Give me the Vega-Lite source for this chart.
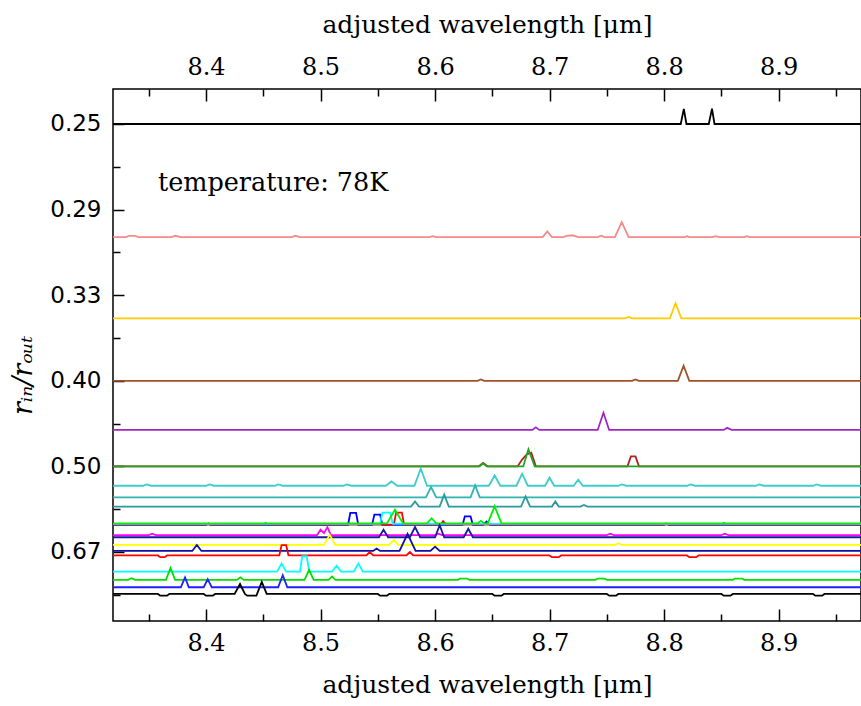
{
  "$schema": "https://vega.github.io/schema/vega-lite/v6.json",
  "width": 748,
  "height": 532,
  "autosize": {"type": "none"},
  "padding": {"left": 113, "top": 89, "right": 0, "bottom": 85},
  "background": "white",
  "config": {
    "view": {"stroke": "#000", "strokeWidth": 1.5},
    "axis": {"grid": false, "domain": false, "tickColor": "#000", "tickWidth": 1.5, "labelColor": "#000", "titleColor": "#000", "labelFont": "DejaVu Serif", "labelFontSize": 24, "titleFont": "DejaVu Serif", "titleFontSize": 25, "titleFontWeight": "normal", "labelFlush": false, "labelOverlap": false},
    "axisY": {"labelFont": "DejaVu Sans", "labelFontSize": 23}
  },
  "datasets": {
    "spectra": [
      {"s":"s01","x":8.318,"y":4},{"s":"s01","x":8.8145,"y":4},{"s":"s01","x":8.8172,"y":4.088},{"s":"s01","x":8.8195,"y":4},{"s":"s01","x":8.839,"y":4},{"s":"s01","x":8.8418,"y":4.09},{"s":"s01","x":8.844,"y":4},{"s":"s01","x":8.973,"y":4},
      {"s":"s02","x":8.318,"y":3.339},{"s":"s02","x":8.33,"y":3.339},{"s":"s02","x":8.333,"y":3.347},{"s":"s02","x":8.338,"y":3.347},{"s":"s02","x":8.341,"y":3.339},{"s":"s02","x":8.37,"y":3.339},{"s":"s02","x":8.373,"y":3.347},{"s":"s02","x":8.378,"y":3.339},{"s":"s02","x":8.475,"y":3.339},{"s":"s02","x":8.478,"y":3.347},{"s":"s02","x":8.482,"y":3.339},{"s":"s02","x":8.595,"y":3.339},{"s":"s02","x":8.598,"y":3.345},{"s":"s02","x":8.601,"y":3.339},{"s":"s02","x":8.694,"y":3.339},{"s":"s02","x":8.698,"y":3.373},{"s":"s02","x":8.702,"y":3.339},{"s":"s02","x":8.712,"y":3.339},{"s":"s02","x":8.715,"y":3.347},{"s":"s02","x":8.72,"y":3.35},{"s":"s02","x":8.725,"y":3.339},{"s":"s02","x":8.742,"y":3.339},{"s":"s02","x":8.745,"y":3.347},{"s":"s02","x":8.748,"y":3.339},{"s":"s02","x":8.757,"y":3.339},{"s":"s02","x":8.763,"y":3.427},{"s":"s02","x":8.769,"y":3.339},{"s":"s02","x":8.818,"y":3.339},{"s":"s02","x":8.82,"y":3.345},{"s":"s02","x":8.822,"y":3.339},{"s":"s02","x":8.842,"y":3.339},{"s":"s02","x":8.845,"y":3.345},{"s":"s02","x":8.848,"y":3.339},{"s":"s02","x":8.87,"y":3.339},{"s":"s02","x":8.872,"y":3.345},{"s":"s02","x":8.875,"y":3.339},{"s":"s02","x":8.973,"y":3.339},
      {"s":"s03","x":8.318,"y":2.865},{"s":"s03","x":8.766,"y":2.865},{"s":"s03","x":8.769,"y":2.873},{"s":"s03","x":8.772,"y":2.865},{"s":"s03","x":8.805,"y":2.865},{"s":"s03","x":8.81,"y":2.953},{"s":"s03","x":8.815,"y":2.865},{"s":"s03","x":8.973,"y":2.865},
      {"s":"s04","x":8.318,"y":2.5},{"s":"s04","x":8.637,"y":2.5},{"s":"s04","x":8.64,"y":2.508},{"s":"s04","x":8.643,"y":2.5},{"s":"s04","x":8.772,"y":2.5},{"s":"s04","x":8.775,"y":2.508},{"s":"s04","x":8.778,"y":2.5},{"s":"s04","x":8.812,"y":2.5},{"s":"s04","x":8.817,"y":2.588},{"s":"s04","x":8.822,"y":2.5},{"s":"s04","x":8.973,"y":2.5},
      {"s":"s05","x":8.318,"y":2.213},{"s":"s05","x":8.685,"y":2.213},{"s":"s05","x":8.688,"y":2.228},{"s":"s05","x":8.691,"y":2.213},{"s":"s05","x":8.742,"y":2.213},{"s":"s05","x":8.747,"y":2.313},{"s":"s05","x":8.752,"y":2.213},{"s":"s05","x":8.852,"y":2.213},{"s":"s05","x":8.855,"y":2.225},{"s":"s05","x":8.859,"y":2.213},{"s":"s05","x":8.973,"y":2.213},
      {"s":"s06","x":8.318,"y":2},{"s":"s06","x":8.638,"y":2},{"s":"s06","x":8.642,"y":2.02},{"s":"s06","x":8.646,"y":2},{"s":"s06","x":8.672,"y":2},{"s":"s06","x":8.676,"y":2.04},{"s":"s06","x":8.68,"y":2.07},{"s":"s06","x":8.684,"y":2.08},{"s":"s06","x":8.688,"y":2},{"s":"s06","x":8.768,"y":2},{"s":"s06","x":8.771,"y":2.058},{"s":"s06","x":8.775,"y":2.058},{"s":"s06","x":8.778,"y":2},{"s":"s06","x":8.973,"y":2},
      {"s":"s07","x":8.318,"y":2},{"s":"s07","x":8.639,"y":2},{"s":"s07","x":8.642,"y":2.018},{"s":"s07","x":8.645,"y":2},{"s":"s07","x":8.677,"y":2},{"s":"s07","x":8.6815,"y":2.1},{"s":"s07","x":8.687,"y":2},{"s":"s07","x":8.973,"y":2},
      {"s":"s08","x":8.318,"y":1.887},{"s":"s08","x":8.345,"y":1.887},{"s":"s08","x":8.348,"y":1.895},{"s":"s08","x":8.352,"y":1.887},{"s":"s08","x":8.4,"y":1.887},{"s":"s08","x":8.403,"y":1.895},{"s":"s08","x":8.407,"y":1.887},{"s":"s08","x":8.46,"y":1.887},{"s":"s08","x":8.463,"y":1.895},{"s":"s08","x":8.467,"y":1.887},{"s":"s08","x":8.52,"y":1.887},{"s":"s08","x":8.523,"y":1.895},{"s":"s08","x":8.527,"y":1.887},{"s":"s08","x":8.557,"y":1.887},{"s":"s08","x":8.562,"y":1.912},{"s":"s08","x":8.567,"y":1.887},{"s":"s08","x":8.582,"y":1.887},{"s":"s08","x":8.5875,"y":1.987},{"s":"s08","x":8.593,"y":1.887},{"s":"s08","x":8.647,"y":1.887},{"s":"s08","x":8.652,"y":1.947},{"s":"s08","x":8.657,"y":1.887},{"s":"s08","x":8.671,"y":1.887},{"s":"s08","x":8.676,"y":1.957},{"s":"s08","x":8.681,"y":1.887},{"s":"s08","x":8.696,"y":1.887},{"s":"s08","x":8.7,"y":1.934},{"s":"s08","x":8.704,"y":1.887},{"s":"s08","x":8.721,"y":1.887},{"s":"s08","x":8.725,"y":1.922},{"s":"s08","x":8.729,"y":1.887},{"s":"s08","x":8.76,"y":1.887},{"s":"s08","x":8.763,"y":1.895},{"s":"s08","x":8.767,"y":1.887},{"s":"s08","x":8.82,"y":1.887},{"s":"s08","x":8.823,"y":1.895},{"s":"s08","x":8.827,"y":1.887},{"s":"s08","x":8.88,"y":1.887},{"s":"s08","x":8.883,"y":1.895},{"s":"s08","x":8.887,"y":1.887},{"s":"s08","x":8.93,"y":1.887},{"s":"s08","x":8.933,"y":1.895},{"s":"s08","x":8.937,"y":1.887},{"s":"s08","x":8.973,"y":1.887},
      {"s":"s09","x":8.318,"y":1.819},{"s":"s09","x":8.592,"y":1.819},{"s":"s09","x":8.5965,"y":1.879},{"s":"s09","x":8.601,"y":1.819},{"s":"s09","x":8.631,"y":1.819},{"s":"s09","x":8.635,"y":1.889},{"s":"s09","x":8.639,"y":1.819},{"s":"s09","x":8.973,"y":1.819},
      {"s":"s10","x":8.318,"y":1.765},{"s":"s10","x":8.579,"y":1.765},{"s":"s10","x":8.5825,"y":1.795},{"s":"s10","x":8.586,"y":1.765},{"s":"s10","x":8.604,"y":1.765},{"s":"s10","x":8.608,"y":1.835},{"s":"s10","x":8.612,"y":1.765},{"s":"s10","x":8.675,"y":1.765},{"s":"s10","x":8.679,"y":1.825},{"s":"s10","x":8.683,"y":1.765},{"s":"s10","x":8.702,"y":1.765},{"s":"s10","x":8.705,"y":1.795},{"s":"s10","x":8.708,"y":1.765},{"s":"s10","x":8.727,"y":1.765},{"s":"s10","x":8.73,"y":1.775},{"s":"s10","x":8.733,"y":1.765},{"s":"s10","x":8.973,"y":1.765},
      {"s":"s11","x":8.318,"y":1.658},{"s":"s11","x":8.4,"y":1.658},{"s":"s11","x":8.402,"y":1.666},{"s":"s11","x":8.404,"y":1.658},{"s":"s11","x":8.524,"y":1.658},{"s":"s11","x":8.526,"y":1.728},{"s":"s11","x":8.531,"y":1.728},{"s":"s11","x":8.533,"y":1.658},{"s":"s11","x":8.545,"y":1.658},{"s":"s11","x":8.547,"y":1.718},{"s":"s11","x":8.552,"y":1.718},{"s":"s11","x":8.554,"y":1.658},{"s":"s11","x":8.624,"y":1.658},{"s":"s11","x":8.626,"y":1.708},{"s":"s11","x":8.631,"y":1.708},{"s":"s11","x":8.633,"y":1.658},{"s":"s11","x":8.642,"y":1.658},{"s":"s11","x":8.645,"y":1.678},{"s":"s11","x":8.648,"y":1.658},{"s":"s11","x":8.8,"y":1.658},{"s":"s11","x":8.802,"y":1.666},{"s":"s11","x":8.804,"y":1.658},{"s":"s11","x":8.973,"y":1.658},
      {"s":"s12","x":8.318,"y":1.66},{"s":"s12","x":8.45,"y":1.66},{"s":"s12","x":8.452,"y":1.668},{"s":"s12","x":8.455,"y":1.66},{"s":"s12","x":8.564,"y":1.66},{"s":"s12","x":8.566,"y":1.73},{"s":"s12","x":8.571,"y":1.73},{"s":"s12","x":8.573,"y":1.66},{"s":"s12","x":8.605,"y":1.66},{"s":"s12","x":8.607,"y":1.68},{"s":"s12","x":8.61,"y":1.66},{"s":"s12","x":8.85,"y":1.66},{"s":"s12","x":8.852,"y":1.668},{"s":"s12","x":8.855,"y":1.66},{"s":"s12","x":8.973,"y":1.66},
      {"s":"s13","x":8.318,"y":1.664},{"s":"s13","x":8.552,"y":1.664},{"s":"s13","x":8.554,"y":1.73},{"s":"s13","x":8.561,"y":1.73},{"s":"s13","x":8.563,"y":1.664},{"s":"s13","x":8.973,"y":1.664},
      {"s":"s14","x":8.318,"y":1.667},{"s":"s14","x":8.558,"y":1.667},{"s":"s14","x":8.565,"y":1.747},{"s":"s14","x":8.572,"y":1.667},{"s":"s14","x":8.593,"y":1.667},{"s":"s14","x":8.597,"y":1.697},{"s":"s14","x":8.601,"y":1.667},{"s":"s14","x":8.637,"y":1.667},{"s":"s14","x":8.64,"y":1.682},{"s":"s14","x":8.643,"y":1.667},{"s":"s14","x":8.646,"y":1.667},{"s":"s14","x":8.652,"y":1.767},{"s":"s14","x":8.658,"y":1.667},{"s":"s14","x":8.973,"y":1.667},
      {"s":"s15","x":8.318,"y":1.599},{"s":"s15","x":8.35,"y":1.599},{"s":"s15","x":8.353,"y":1.607},{"s":"s15","x":8.356,"y":1.599},{"s":"s15","x":8.497,"y":1.599},{"s":"s15","x":8.5,"y":1.63},{"s":"s15","x":8.503,"y":1.61},{"s":"s15","x":8.506,"y":1.645},{"s":"s15","x":8.509,"y":1.599},{"s":"s15","x":8.6,"y":1.599},{"s":"s15","x":8.603,"y":1.607},{"s":"s15","x":8.606,"y":1.599},{"s":"s15","x":8.75,"y":1.599},{"s":"s15","x":8.753,"y":1.607},{"s":"s15","x":8.756,"y":1.599},{"s":"s15","x":8.85,"y":1.599},{"s":"s15","x":8.853,"y":1.607},{"s":"s15","x":8.856,"y":1.599},{"s":"s15","x":8.973,"y":1.599},
      {"s":"s16","x":8.318,"y":1.586},{"s":"s16","x":8.551,"y":1.586},{"s":"s16","x":8.555,"y":1.63},{"s":"s16","x":8.559,"y":1.586},{"s":"s16","x":8.578,"y":1.586},{"s":"s16","x":8.5825,"y":1.646},{"s":"s16","x":8.587,"y":1.586},{"s":"s16","x":8.6,"y":1.586},{"s":"s16","x":8.604,"y":1.656},{"s":"s16","x":8.608,"y":1.586},{"s":"s16","x":8.625,"y":1.586},{"s":"s16","x":8.629,"y":1.636},{"s":"s16","x":8.633,"y":1.586},{"s":"s16","x":8.973,"y":1.586},
      {"s":"s17","x":8.318,"y":1.541},{"s":"s17","x":8.503,"y":1.541},{"s":"s17","x":8.508,"y":1.6},{"s":"s17","x":8.513,"y":1.541},{"s":"s17","x":8.56,"y":1.541},{"s":"s17","x":8.564,"y":1.571},{"s":"s17","x":8.568,"y":1.541},{"s":"s17","x":8.757,"y":1.541},{"s":"s17","x":8.76,"y":1.551},{"s":"s17","x":8.763,"y":1.541},{"s":"s17","x":8.973,"y":1.541},
      {"s":"s18","x":8.318,"y":1.506},{"s":"s18","x":8.388,"y":1.506},{"s":"s18","x":8.392,"y":1.541},{"s":"s18","x":8.396,"y":1.506},{"s":"s18","x":8.546,"y":1.506},{"s":"s18","x":8.549,"y":1.52},{"s":"s18","x":8.552,"y":1.506},{"s":"s18","x":8.569,"y":1.506},{"s":"s18","x":8.576,"y":1.606},{"s":"s18","x":8.583,"y":1.506},{"s":"s18","x":8.596,"y":1.506},{"s":"s18","x":8.6,"y":1.531},{"s":"s18","x":8.604,"y":1.506},{"s":"s18","x":8.973,"y":1.506},
      {"s":"s19","x":8.318,"y":1.48},{"s":"s19","x":8.358,"y":1.48},{"s":"s19","x":8.36,"y":1.47},{"s":"s19","x":8.364,"y":1.47},{"s":"s19","x":8.366,"y":1.48},{"s":"s19","x":8.464,"y":1.48},{"s":"s19","x":8.466,"y":1.54},{"s":"s19","x":8.47,"y":1.54},{"s":"s19","x":8.472,"y":1.48},{"s":"s19","x":8.54,"y":1.48},{"s":"s19","x":8.543,"y":1.5},{"s":"s19","x":8.546,"y":1.48},{"s":"s19","x":8.575,"y":1.48},{"s":"s19","x":8.578,"y":1.5},{"s":"s19","x":8.581,"y":1.48},{"s":"s19","x":8.7,"y":1.48},{"s":"s19","x":8.702,"y":1.47},{"s":"s19","x":8.708,"y":1.47},{"s":"s19","x":8.71,"y":1.48},{"s":"s19","x":8.82,"y":1.48},{"s":"s19","x":8.822,"y":1.47},{"s":"s19","x":8.828,"y":1.47},{"s":"s19","x":8.83,"y":1.48},{"s":"s19","x":8.973,"y":1.48},
      {"s":"s20","x":8.318,"y":1.385},{"s":"s20","x":8.462,"y":1.385},{"s":"s20","x":8.466,"y":1.432},{"s":"s20","x":8.47,"y":1.385},{"s":"s20","x":8.482,"y":1.385},{"s":"s20","x":8.484,"y":1.475},{"s":"s20","x":8.488,"y":1.475},{"s":"s20","x":8.49,"y":1.385},{"s":"s20","x":8.51,"y":1.385},{"s":"s20","x":8.514,"y":1.42},{"s":"s20","x":8.518,"y":1.385},{"s":"s20","x":8.529,"y":1.385},{"s":"s20","x":8.533,"y":1.432},{"s":"s20","x":8.537,"y":1.385},{"s":"s20","x":8.973,"y":1.385},
      {"s":"s21","x":8.318,"y":1.337},{"s":"s21","x":8.332,"y":1.337},{"s":"s21","x":8.335,"y":1.347},{"s":"s21","x":8.338,"y":1.337},{"s":"s21","x":8.365,"y":1.337},{"s":"s21","x":8.369,"y":1.407},{"s":"s21","x":8.373,"y":1.337},{"s":"s21","x":8.427,"y":1.337},{"s":"s21","x":8.43,"y":1.352},{"s":"s21","x":8.433,"y":1.337},{"s":"s21","x":8.486,"y":1.337},{"s":"s21","x":8.49,"y":1.395},{"s":"s21","x":8.494,"y":1.337},{"s":"s21","x":8.507,"y":1.337},{"s":"s21","x":8.51,"y":1.357},{"s":"s21","x":8.513,"y":1.337},{"s":"s21","x":8.62,"y":1.337},{"s":"s21","x":8.622,"y":1.345},{"s":"s21","x":8.628,"y":1.345},{"s":"s21","x":8.63,"y":1.337},{"s":"s21","x":8.74,"y":1.337},{"s":"s21","x":8.742,"y":1.345},{"s":"s21","x":8.748,"y":1.345},{"s":"s21","x":8.75,"y":1.337},{"s":"s21","x":8.86,"y":1.337},{"s":"s21","x":8.862,"y":1.345},{"s":"s21","x":8.868,"y":1.345},{"s":"s21","x":8.87,"y":1.337},{"s":"s21","x":8.973,"y":1.337},
      {"s":"s22","x":8.318,"y":1.294},{"s":"s22","x":8.378,"y":1.294},{"s":"s22","x":8.3817,"y":1.352},{"s":"s22","x":8.385,"y":1.294},{"s":"s22","x":8.398,"y":1.294},{"s":"s22","x":8.4015,"y":1.341},{"s":"s22","x":8.405,"y":1.294},{"s":"s22","x":8.463,"y":1.294},{"s":"s22","x":8.467,"y":1.364},{"s":"s22","x":8.471,"y":1.294},{"s":"s22","x":8.973,"y":1.294},
      {"s":"s23","x":8.318,"y":1.255},{"s":"s23","x":8.358,"y":1.255},{"s":"s23","x":8.36,"y":1.245},{"s":"s23","x":8.366,"y":1.245},{"s":"s23","x":8.368,"y":1.255},{"s":"s23","x":8.398,"y":1.255},{"s":"s23","x":8.4,"y":1.245},{"s":"s23","x":8.406,"y":1.245},{"s":"s23","x":8.408,"y":1.255},{"s":"s23","x":8.425,"y":1.255},{"s":"s23","x":8.4297,"y":1.313},{"s":"s23","x":8.434,"y":1.255},{"s":"s23","x":8.436,"y":1.245},{"s":"s23","x":8.444,"y":1.245},{"s":"s23","x":8.4487,"y":1.325},{"s":"s23","x":8.453,"y":1.255},{"s":"s23","x":8.55,"y":1.255},{"s":"s23","x":8.552,"y":1.245},{"s":"s23","x":8.558,"y":1.245},{"s":"s23","x":8.56,"y":1.255},{"s":"s23","x":8.65,"y":1.255},{"s":"s23","x":8.652,"y":1.245},{"s":"s23","x":8.658,"y":1.245},{"s":"s23","x":8.66,"y":1.255},{"s":"s23","x":8.75,"y":1.255},{"s":"s23","x":8.752,"y":1.245},{"s":"s23","x":8.758,"y":1.245},{"s":"s23","x":8.76,"y":1.255},{"s":"s23","x":8.85,"y":1.255},{"s":"s23","x":8.852,"y":1.245},{"s":"s23","x":8.858,"y":1.245},{"s":"s23","x":8.86,"y":1.255},{"s":"s23","x":8.93,"y":1.255},{"s":"s23","x":8.932,"y":1.245},{"s":"s23","x":8.938,"y":1.245},{"s":"s23","x":8.94,"y":1.255},{"s":"s23","x":8.973,"y":1.255}
    ]
  },
  "layer": [
    {
      "data": {"name": "spectra"},
      "transform": [{"filter": {"field": "s", "oneOf": ["s01","s02","s03","s04","s05","s06","s07","s08","s09","s10"]}}],
      "mark": {"type": "line", "strokeWidth": 1.8, "clip": true},
      "encoding": {
        "x": {"field": "x", "type": "quantitative", "scale": {"domain": [8.3188, 8.9719], "nice": false, "zero": false},
              "axis": {"orient": "bottom", "values": [8.4,8.5,8.6,8.7,8.8,8.9], "format": ".1f", "offset": -12, "tickSize": 12, "labelPadding": 10, "title": "adjusted wavelength [μm]", "titlePadding": 17}},
        "y": {"field": "y", "type": "quantitative", "scale": {"domain": [1.0969, 4.2044], "nice": false, "zero": false},
              "axis": {"orient": "left", "values": [1.5,2,2.5,3,3.5,4], "labelExpr": "format(1/datum.value,'.2f')", "offset": -11, "tickSize": 11, "labelPadding": 12, "title": "rᵢₙ/rₒᵤₜ", "titleFontStyle": "italic", "titleFontSize": 27, "titlePadding": 12, "titleY": 286}},
        "color": {"field": "s", "type": "nominal", "legend": null,
                  "scale": {"domain": ["s01","s02","s03","s04","s05","s06","s07","s08","s09","s10","s11","s12","s13","s14","s15","s16","s17","s18","s19","s20","s21","s22","s23"],
                            "range": ["#000000","#f58a8a","#ffcc00","#a0522d","#a028c0","#b22222","#1fa81f","#40cccc","#30b4b0","#2a9a9a","#0000ff","#ff0000","#00ffff","#00ee00","#ff00ff","#1a1aa0","#ffff00","#1010a0","#ff0000","#00ffff","#00e000","#1f1fff","#000000"]}}
      }
    },
    {
      "data": {"name": "spectra"},
      "transform": [{"filter": {"field": "s", "oneOf": ["s11","s12","s13","s14","s15","s16","s17"]}}],
      "mark": {"type": "line", "strokeWidth": 1.8, "clip": true},
      "encoding": {
        "x": {"field": "x", "type": "quantitative",
              "axis": {"orient": "top", "values": [8.4,8.5,8.6,8.7,8.8,8.9], "format": ".1f", "offset": -12, "tickSize": 12, "labelPadding": 10, "title": "adjusted wavelength [μm]", "titlePadding": 18}},
        "y": {"field": "y", "type": "quantitative",
              "axis": {"orient": "left", "values": [1.25,1.75,2.25,2.75,3.25,3.75], "offset": -7, "tickSize": 7, "labels": false, "title": null}},
        "color": {"field": "s", "type": "nominal", "legend": null}
      }
    },
    {
      "data": {"name": "spectra"},
      "transform": [{"filter": {"field": "s", "oneOf": ["s18","s19","s20","s21","s22","s23"]}}],
      "mark": {"type": "line", "strokeWidth": 1.8, "clip": true},
      "encoding": {
        "x": {"field": "x", "type": "quantitative",
              "axis": {"orient": "bottom", "values": [8.35,8.45,8.55,8.65,8.75,8.85,8.95], "offset": -7, "tickSize": 7, "labels": false, "title": null}},
        "y": {"field": "y", "type": "quantitative", "axis": null},
        "color": {"field": "s", "type": "nominal", "legend": null}
      }
    },
    {
      "data": {"values": [{"x": 8.358, "y": 3.655, "t": "temperature: 78K"}]},
      "mark": {"type": "text", "align": "left", "baseline": "middle", "font": "DejaVu Serif", "fontSize": 25.5, "color": "#000"},
      "encoding": {
        "x": {"field": "x", "type": "quantitative",
              "axis": {"orient": "top", "values": [8.35,8.45,8.55,8.65,8.75,8.85,8.95], "offset": -7, "tickSize": 7, "labels": false, "title": null}},
        "y": {"field": "y", "type": "quantitative", "axis": null},
        "text": {"field": "t"}
      }
    }
  ],
  "resolve": {"axis": {"x": "independent", "y": "independent"}}
}
